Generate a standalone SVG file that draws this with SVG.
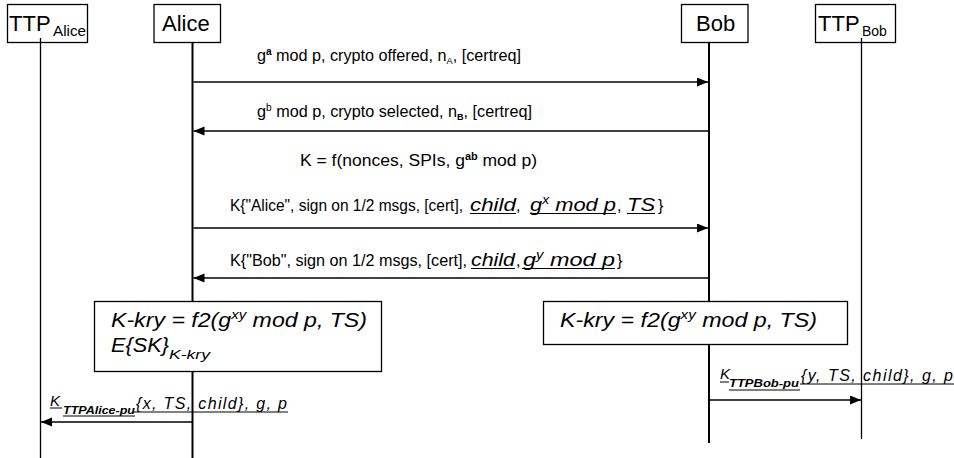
<svg xmlns="http://www.w3.org/2000/svg" width="954" height="458" viewBox="0 0 954 458">
<style>
.bg{fill:#fff}
.box{fill:#fff;stroke:#000;stroke-width:1.3}
.life{stroke:#000;stroke-width:2;fill:none}
.lifet{stroke:#000;stroke-width:1.3;fill:none}
.msg{stroke:#000;stroke-width:1.4;fill:none;marker-end:url(#ah)}
.ul{stroke:#000;stroke-width:1;fill:none}
text{font-family:"Liberation Sans",Arial,sans-serif;fill:#000}
.n{font-size:22px}
.m{font-size:16px}
.i{font-style:italic}
</style>
<defs>
<marker id="ah" markerUnits="userSpaceOnUse" markerWidth="12" markerHeight="10" refX="11" refY="4.5" orient="auto">
<path d="M0,0 L11,4.5 L0,9 z" fill="#000"/>
</marker>
</defs>
<rect class="bg" x="0" y="0" width="954" height="458"/>

<g id="ttp-alice">
<rect class="box" x="7.5" y="4.5" width="80" height="38"/>
<text class="n" x="9" y="31">TTP</text>
<text x="53" y="36" font-size="14" textLength="33" lengthAdjust="spacingAndGlyphs">Alice</text>
<line class="lifet" x1="40.5" y1="38" x2="40.5" y2="458"/>
</g>

<g id="alice">
<rect class="box" x="154" y="4.5" width="66.5" height="38"/>
<text class="n" x="162" y="31">Alice</text>
<line class="life" x1="192.5" y1="43" x2="192.5" y2="458"/>
</g>

<g id="bob">
<rect class="box" x="681.5" y="4.5" width="66.5" height="38"/>
<text class="n" x="696" y="31">Bob</text>
<line class="life" x1="709" y1="43" x2="709" y2="443"/>
</g>

<g id="ttp-bob">
<rect class="box" x="815.5" y="4.5" width="80" height="38"/>
<text class="n" x="818" y="31">TTP</text>
<text x="862" y="36" font-size="14">Bob</text>
<line class="lifet" x1="861.5" y1="38" x2="861.5" y2="439"/>
</g>

<g id="connectors">
<line class="msg" x1="193.5" y1="82" x2="708" y2="82"/>
<line class="msg" x1="708" y1="131" x2="193.5" y2="131"/>
<line class="msg" x1="193.5" y1="228" x2="708" y2="228"/>
<line class="msg" x1="708" y1="278" x2="193.5" y2="278"/>
<line class="msg" x1="709" y1="400" x2="861" y2="400"/>
<line class="msg" x1="192" y1="422" x2="41" y2="422"/>
</g>

<g id="labels">
<text class="m" x="257" y="61" textLength="264" lengthAdjust="spacingAndGlyphs">g<tspan dy="-6" font-size="10" font-weight="bold">a</tspan><tspan dy="6"> mod p, crypto offered, n</tspan><tspan dy="3" font-size="9">A</tspan><tspan dy="-3">, [certreq]</tspan></text>
<text class="m" x="257" y="117" textLength="275" lengthAdjust="spacingAndGlyphs">g<tspan dy="-6" font-size="10">b</tspan><tspan dy="6"> mod p, crypto selected, n</tspan><tspan dy="3" font-size="9" font-weight="bold">B</tspan><tspan dy="-3">, [certreq]</tspan></text>
<text class="m" x="300" y="166" textLength="237" lengthAdjust="spacingAndGlyphs">K = f(nonces, SPIs, g<tspan dy="-6" font-size="10" font-weight="bold">ab</tspan><tspan dy="6"> mod p)</tspan></text>

<text class="m" x="230" y="211" textLength="233" lengthAdjust="spacingAndGlyphs">K{"Alice", sign on 1/2 msgs, [cert],</text>
<text class="i" x="470" y="211" font-size="19" textLength="46" lengthAdjust="spacingAndGlyphs">child</text>
<text class="m" x="516" y="211">,</text>
<text class="i" x="530" y="211" font-size="19" textLength="86" lengthAdjust="spacingAndGlyphs">g<tspan dy="-7" font-size="12">x</tspan><tspan dy="7"> mod p</tspan></text>
<text class="m" x="617" y="211">,</text>
<text class="i" x="627" y="211" font-size="19" textLength="28" lengthAdjust="spacingAndGlyphs">TS</text>
<text class="m" x="658" y="211">}</text>
<line class="ul" x1="470" y1="213.5" x2="516" y2="213.5"/>
<line class="ul" x1="530" y1="213.5" x2="616" y2="213.5"/>
<line class="ul" x1="627" y1="213.5" x2="655" y2="213.5"/>

<text class="m" x="230" y="266" textLength="237" lengthAdjust="spacingAndGlyphs">K{"Bob", sign on 1/2 msgs, [cert],</text>
<text class="i" x="471" y="266" font-size="19" textLength="44" lengthAdjust="spacingAndGlyphs">child</text>
<text class="m" x="516" y="266">,</text>
<text class="i" x="523" y="266" font-size="19" textLength="92" lengthAdjust="spacingAndGlyphs">g<tspan dy="-7" font-size="12">y</tspan><tspan dy="7"> mod p </tspan></text>
<text class="m" x="617" y="266">}</text>
<line class="ul" x1="471" y1="268.5" x2="515" y2="268.5"/>
<line class="ul" x1="522" y1="268.5" x2="615" y2="268.5"/>
</g>

<g id="alice-note">
<rect class="box" x="94.5" y="301.5" width="287" height="70"/>
<text class="i" x="111" y="327" font-size="20" textLength="256" lengthAdjust="spacingAndGlyphs">K-kry = f2(g<tspan dy="-8" font-size="13">xy</tspan><tspan dy="8"> mod p,  TS)</tspan></text>
<text class="i" x="111" y="352" font-size="20" textLength="58" lengthAdjust="spacingAndGlyphs">E{SK}</text>
<text class="i" x="169" y="359" font-size="13" textLength="41" lengthAdjust="spacingAndGlyphs">K-kry</text>
</g>

<g id="bob-note">
<rect class="box" x="543.5" y="301.5" width="304" height="43"/>
<text class="i" x="560" y="327" font-size="20" textLength="257" lengthAdjust="spacingAndGlyphs">K-kry = f2(g<tspan dy="-8" font-size="13">xy</tspan><tspan dy="8"> mod p,  TS)</tspan></text>
</g>

<g id="bottom-labels">
<text class="i" x="720" y="379" font-size="15">K</text>
<text class="i" x="729" y="387" font-size="11" font-weight="bold" textLength="70" lengthAdjust="spacingAndGlyphs">TTPBob-pu</text>
<text class="i" x="801" y="381" font-size="16" textLength="152" lengthAdjust="spacing">{y, TS, child}, g, p</text>
<line class="ul" x1="720" y1="382" x2="729" y2="382"/>
<line class="ul" x1="729" y1="390" x2="800" y2="390"/>
<line class="ul" x1="800" y1="384" x2="954" y2="384"/>

<text class="i" x="50" y="406" font-size="15">K</text>
<text class="i" x="63" y="414" font-size="11" font-weight="bold" textLength="72" lengthAdjust="spacingAndGlyphs">TTPAlice-pu</text>
<text class="i" x="136" y="409" font-size="16" textLength="151" lengthAdjust="spacing">{x, TS, child}, g, p</text>
<line class="ul" x1="50" y1="408" x2="62" y2="408"/>
<line class="ul" x1="63" y1="416" x2="135" y2="416"/>
<line class="ul" x1="133" y1="412" x2="288" y2="412"/>
</g>
</svg>
